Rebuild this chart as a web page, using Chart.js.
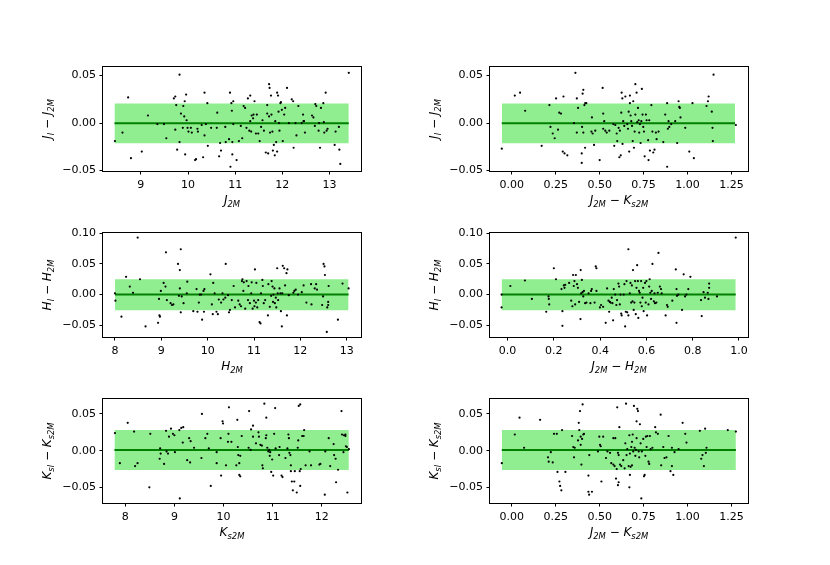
<!DOCTYPE html>
<html>
<head>
<meta charset="utf-8">
<script src="https://cdn.jsdelivr.net/npm/chart.js@4.4.1/dist/chart.umd.min.js"></script>
<style>
  body { margin: 0; background: #fff; width: 830px; height: 565px; position: relative; overflow: hidden; }
  canvas { position: absolute; }
</style>
</head>
<body>
<canvas id="p0"></canvas>
<canvas id="p1"></canvas>
<canvas id="p2"></canvas>
<canvas id="p3"></canvas>
<canvas id="p4"></canvas>
<canvas id="p5"></canvas>
<script>
// residual vs magnitude / colour, one [x, y] pair per star
const jMagPts = [[8.45,-0.019],[8.61,-0.010],[8.73,0.027],[8.79,-0.037],[9.02,-0.030],[9.15,0.008],[9.35,-0.001],[9.49,-0.001],[9.54,-0.016],[9.70,0.026],[9.73,0.028],[9.73,-0.007],[9.75,0.019],[9.77,-0.028],[9.82,0.051],[9.82,-0.020],[9.85,0.010],[9.89,-0.005],[9.90,0.018],[9.92,0.007],[9.93,0.023],[9.94,-0.033],[9.96,0.030],[9.97,0.003],[9.99,-0.005],[10.01,-0.009],[10.06,-0.005],[10.08,-0.010],[10.15,-0.039],[10.17,-0.038],[10.20,-0.006],[10.21,-0.009],[10.29,-0.002],[10.32,-0.036],[10.35,0.032],[10.35,-0.013],[10.38,-0.001],[10.41,0.021],[10.42,-0.024],[10.49,-0.005],[10.61,-0.005],[10.62,0.011],[10.66,-0.035],[10.68,-0.021],[10.70,-0.029],[10.79,-0.004],[10.80,-0.020],[10.87,-0.017],[10.89,0.032],[10.90,-0.046],[10.92,0.021],[10.93,0.013],[10.94,-0.020],[10.94,-0.033],[10.96,0.023],[10.96,-0.001],[11.03,-0.039],[11.08,-0.019],[11.12,-0.003],[11.15,-0.016],[11.18,0.018],[11.21,0.016],[11.24,-0.005],[11.27,0.026],[11.30,-0.008],[11.32,0.029],[11.32,0.002],[11.34,-0.009],[11.35,0.008],[11.38,0.005],[11.39,0.009],[11.41,0.023],[11.44,-0.011],[11.46,0.009],[11.49,-0.011],[11.52,-0.019],[11.55,-0.004],[11.58,0.003],[11.61,-0.008],[11.65,-0.031],[11.68,0.010],[11.68,0.019],[11.70,-0.032],[11.72,0.041],[11.72,0.007],[11.73,0.037],[11.74,-0.010],[11.76,0.029],[11.77,0.009],[11.79,-0.009],[11.80,-0.029],[11.82,-0.023],[11.84,-0.034],[11.85,0.002],[11.87,-0.020],[11.89,0.032],[11.89,-0.030],[11.91,0.029],[11.92,0.012],[11.93,0.000],[11.94,-0.008],[11.96,0.021],[11.97,0.022],[11.99,0.014],[12.01,-0.019],[12.04,0.009],[12.06,0.016],[12.10,0.037],[12.14,0.000],[12.20,0.025],[12.23,0.023],[12.24,-0.026],[12.28,0.000],[12.30,-0.013],[12.34,0.018],[12.41,0.000],[12.44,0.009],[12.45,0.002],[12.46,0.002],[12.48,-0.010],[12.63,0.008],[12.66,0.006],[12.69,-0.003],[12.70,0.020],[12.72,0.018],[12.77,-0.008],[12.78,0.000],[12.80,-0.026],[12.82,0.016],[12.87,0.021],[12.88,0.001],[12.89,-0.010],[12.92,0.032],[12.94,-0.008],[12.96,-0.006],[13.11,-0.023],[13.13,-0.009],[13.20,-0.004],[13.21,-0.028],[13.23,-0.043],[13.41,0.053]];

const jColPts = [[-0.057,-0.027],[0.017,0.029],[0.047,0.032],[0.076,0.013],[0.17,-0.024],[0.214,0.019],[0.22,-0.004],[0.233,-0.011],[0.244,-0.016],[0.252,0.026],[0.263,-0.007],[0.27,0.011],[0.28,0.010],[0.29,-0.030],[0.294,0.028],[0.30,-0.032],[0.316,-0.034],[0.354,0.000],[0.362,0.053],[0.37,0.026],[0.37,-0.010],[0.377,0.016],[0.398,-0.042],[0.398,-0.032],[0.40,-0.004],[0.403,0.031],[0.407,0.035],[0.407,-0.010],[0.413,0.019],[0.417,-0.026],[0.418,0.021],[0.424,0.021],[0.453,-0.009],[0.456,0.006],[0.46,-0.011],[0.468,-0.023],[0.475,-0.008],[0.50,-0.039],[0.517,0.037],[0.52,0.010],[0.52,-0.006],[0.526,0.002],[0.532,-0.008],[0.54,-0.010],[0.555,-0.008],[0.578,-0.001],[0.583,-0.024],[0.589,-0.002],[0.597,-0.011],[0.60,-0.019],[0.608,-0.005],[0.612,-0.036],[0.615,-0.008],[0.62,-0.034],[0.623,0.011],[0.625,0.032],[0.629,0.026],[0.63,-0.022],[0.634,0.002],[0.64,-0.003],[0.646,0.028],[0.657,-0.001],[0.661,-0.006],[0.665,0.012],[0.668,-0.030],[0.672,0.029],[0.672,0.021],[0.676,0.008],[0.68,0.002],[0.684,-0.003],[0.688,-0.019],[0.691,0.023],[0.695,-0.026],[0.699,-0.009],[0.703,0.041],[0.703,0.009],[0.71,0.032],[0.714,0.001],[0.718,0.016],[0.722,0.003],[0.725,-0.010],[0.729,-0.001],[0.733,-0.021],[0.737,0.002],[0.74,0.036],[0.744,0.009],[0.748,-0.004],[0.752,-0.009],[0.756,-0.035],[0.763,0.009],[0.767,0.003],[0.776,-0.018],[0.778,-0.039],[0.782,0.003],[0.786,-0.029],[0.794,0.019],[0.80,-0.009],[0.805,-0.031],[0.812,-0.028],[0.82,-0.010],[0.824,-0.017],[0.835,-0.009],[0.862,-0.020],[0.873,0.009],[0.884,0.021],[0.884,-0.046],[0.888,-0.006],[0.892,0.002],[0.896,-0.004],[0.907,-0.001],[0.93,0.002],[0.941,-0.021],[0.949,0.023],[0.953,0.017],[0.956,0.016],[0.96,0.006],[0.987,-0.005],[1.01,-0.030],[1.028,0.021],[1.036,-0.037],[1.108,0.018],[1.116,0.023],[1.12,0.028],[1.138,0.012],[1.142,-0.005],[1.144,-0.019],[1.148,0.051],[1.275,-0.002]];

const hMagPts = [[8.0,0.002],[8.01,-0.010],[8.14,-0.036],[8.24,0.029],[8.32,0.013],[8.39,0.003],[8.49,0.093],[8.54,0.025],[8.66,-0.052],[8.93,-0.046],[8.95,-0.007],[8.96,-0.034],[8.97,-0.036],[8.99,0.006],[9.05,0.019],[9.09,0.013],[9.10,0.069],[9.12,-0.009],[9.20,-0.014],[9.23,-0.017],[9.26,-0.016],[9.36,0.050],[9.38,-0.002],[9.40,0.010],[9.40,0.040],[9.42,0.074],[9.42,-0.029],[9.44,-0.003],[9.48,-0.014],[9.55,0.002],[9.56,0.021],[9.69,-0.027],[9.76,0.009],[9.78,-0.028],[9.81,-0.013],[9.83,0.000],[9.86,0.000],[9.88,-0.041],[9.91,0.006],[9.92,-0.028],[9.93,0.009],[10.06,0.033],[10.09,-0.016],[10.11,-0.032],[10.12,0.019],[10.15,0.002],[10.19,-0.028],[10.22,-0.032],[10.24,-0.008],[10.29,-0.013],[10.32,0.002],[10.34,-0.008],[10.38,-0.005],[10.39,0.050],[10.44,-0.001],[10.46,-0.029],[10.48,-0.025],[10.52,-0.009],[10.56,0.014],[10.59,-0.021],[10.66,-0.010],[10.69,-0.016],[10.72,-0.019],[10.74,0.022],[10.75,0.025],[10.77,0.006],[10.78,0.020],[10.81,-0.023],[10.84,0.022],[10.87,-0.009],[10.88,0.014],[10.91,-0.014],[10.94,0.002],[10.95,0.020],[10.97,-0.023],[11.00,-0.010],[11.01,-0.019],[11.02,0.041],[11.04,-0.013],[11.05,0.019],[11.07,-0.021],[11.09,-0.009],[11.12,-0.045],[11.14,-0.047],[11.15,0.002],[11.18,0.024],[11.19,0.014],[11.21,-0.014],[11.24,-0.009],[11.30,-0.034],[11.31,0.017],[11.34,-0.020],[11.37,-0.002],[11.38,0.022],[11.40,0.013],[11.41,-0.012],[11.42,0.000],[11.44,0.010],[11.45,-0.014],[11.47,-0.005],[11.48,-0.021],[11.50,0.043],[11.51,0.002],[11.52,-0.009],[11.55,0.010],[11.57,0.002],[11.58,-0.027],[11.60,-0.052],[11.61,0.002],[11.62,0.047],[11.65,0.043],[11.67,0.015],[11.70,0.035],[11.71,-0.034],[11.72,0.041],[11.75,-0.001],[11.85,0.003],[11.87,0.006],[11.90,0.008],[11.95,0.000],[12.03,0.004],[12.07,0.015],[12.13,-0.013],[12.23,0.017],[12.24,-0.016],[12.31,0.010],[12.34,0.017],[12.36,0.008],[12.47,-0.017],[12.49,-0.003],[12.50,0.050],[12.52,0.046],[12.53,0.032],[12.57,-0.061],[12.58,-0.021],[12.60,-0.012],[12.60,-0.017],[12.61,0.014],[12.81,-0.041],[12.91,0.018],[13.04,0.010]];

const hColPts = [[-0.026,0.000],[-0.026,-0.021],[0.012,0.014],[0.075,0.023],[0.105,-0.007],[0.167,-0.028],[0.177,-0.003],[0.178,-0.007],[0.18,-0.016],[0.20,0.043],[0.209,0.025],[0.233,0.009],[0.237,-0.027],[0.237,-0.051],[0.243,0.015],[0.246,0.011],[0.249,0.016],[0.266,0.019],[0.275,-0.010],[0.28,-0.019],[0.283,0.032],[0.286,0.014],[0.289,0.022],[0.292,-0.016],[0.295,0.032],[0.30,0.017],[0.304,0.011],[0.309,-0.012],[0.315,-0.040],[0.316,0.040],[0.318,0.002],[0.321,0.024],[0.324,0.004],[0.327,-0.003],[0.33,0.006],[0.335,-0.014],[0.341,-0.013],[0.35,0.002],[0.358,-0.014],[0.361,0.006],[0.364,0.009],[0.376,-0.013],[0.381,0.046],[0.384,0.043],[0.384,0.006],[0.399,-0.021],[0.404,-0.017],[0.413,-0.020],[0.424,-0.046],[0.43,0.010],[0.436,-0.010],[0.439,-0.028],[0.442,-0.012],[0.445,-0.013],[0.45,-0.005],[0.453,-0.014],[0.456,-0.042],[0.459,0.009],[0.465,0.000],[0.47,-0.017],[0.473,-0.009],[0.479,0.018],[0.482,0.013],[0.485,-0.016],[0.488,0.000],[0.491,-0.031],[0.493,-0.034],[0.502,0.000],[0.505,0.017],[0.508,-0.052],[0.511,-0.028],[0.514,0.022],[0.517,-0.029],[0.522,0.074],[0.522,-0.034],[0.528,0.002],[0.531,0.019],[0.534,-0.013],[0.537,0.015],[0.54,-0.011],[0.542,0.040],[0.545,-0.025],[0.548,-0.013],[0.551,0.022],[0.554,-0.032],[0.557,0.011],[0.56,0.048],[0.563,0.022],[0.565,-0.038],[0.568,0.006],[0.571,0.003],[0.574,-0.013],[0.577,0.022],[0.58,-0.019],[0.583,-0.005],[0.586,0.011],[0.588,-0.027],[0.594,0.019],[0.597,-0.013],[0.60,0.022],[0.603,-0.034],[0.609,-0.016],[0.612,0.013],[0.614,0.025],[0.617,0.003],[0.62,-0.007],[0.623,0.006],[0.626,0.050],[0.632,-0.011],[0.635,0.002],[0.637,-0.014],[0.643,-0.013],[0.649,0.003],[0.652,0.068],[0.658,0.013],[0.663,0.009],[0.666,0.002],[0.683,-0.034],[0.689,-0.017],[0.692,-0.020],[0.712,-0.010],[0.727,0.041],[0.73,0.009],[0.73,-0.046],[0.732,-0.002],[0.738,0.000],[0.754,-0.025],[0.761,0.033],[0.767,-0.003],[0.773,0.000],[0.781,0.009],[0.79,0.029],[0.836,-0.009],[0.839,-0.035],[0.847,0.004],[0.853,-0.005],[0.865,0.003],[0.868,-0.007],[0.871,0.018],[0.871,0.011],[0.905,-0.003],[0.986,0.093]];

const kMagPts = [[7.79,0.024],[7.89,-0.017],[8.05,0.038],[8.18,0.026],[8.20,-0.021],[8.25,-0.017],[8.49,-0.050],[8.51,0.023],[8.70,-0.011],[8.71,0.003],[8.72,-0.004],[8.79,-0.018],[8.83,0.027],[8.84,-0.001],[8.87,-0.004],[8.89,0.019],[8.93,0.030],[8.97,0.023],[9.00,0.021],[9.01,-0.002],[9.10,0.028],[9.11,-0.065],[9.14,0.031],[9.18,0.032],[9.17,0.011],[9.26,-0.013],[9.30,0.017],[9.32,-0.016],[9.33,0.013],[9.40,0.004],[9.55,-0.010],[9.56,0.050],[9.63,0.017],[9.67,0.023],[9.70,0.003],[9.74,-0.048],[9.86,-0.002],[9.86,-0.017],[9.94,0.017],[9.95,-0.034],[9.98,0.040],[9.99,0.037],[10.05,-0.020],[10.09,0.012],[10.10,0.023],[10.11,0.059],[10.16,0.012],[10.26,-0.020],[10.28,0.042],[10.29,0.005],[10.30,-0.006],[10.32,-0.017],[10.32,-0.033],[10.34,-0.007],[10.34,-0.035],[10.37,0.020],[10.51,0.004],[10.52,0.054],[10.55,0.001],[10.56,0.029],[10.60,0.034],[10.60,0.019],[10.66,0.010],[10.71,0.025],[10.72,0.019],[10.75,0.008],[10.78,0.007],[10.79,-0.020],[10.80,-0.024],[10.83,0.064],[10.86,0.017],[10.87,0.045],[10.87,0.021],[10.89,0.004],[10.91,-0.001],[10.93,0.001],[10.94,-0.007],[10.95,-0.002],[10.97,-0.029],[10.99,-0.012],[11.01,-0.034],[11.03,0.023],[11.05,0.058],[11.06,0.003],[11.13,-0.006],[11.14,0.005],[11.18,-0.034],[11.20,-0.036],[11.26,-0.010],[11.30,0.003],[11.32,0.022],[11.33,0.017],[11.34,-0.003],[11.36,-0.006],[11.37,-0.020],[11.37,-0.028],[11.39,-0.042],[11.41,-0.054],[11.44,-0.042],[11.45,-0.028],[11.49,-0.057],[11.51,0.004],[11.52,0.014],[11.53,0.061],[11.55,-0.028],[11.56,0.063],[11.56,-0.048],[11.57,-0.025],[11.60,0.020],[11.63,0.020],[11.64,0.028],[11.67,-0.020],[11.75,-0.001],[11.78,-0.020],[11.95,-0.019],[11.97,-0.018],[12.06,-0.060],[12.07,-0.001],[12.14,0.017],[12.17,-0.021],[12.24,0.009],[12.25,-0.006],[12.28,-0.011],[12.29,-0.043],[12.33,-0.026],[12.40,0.054],[12.41,0.022],[12.44,-0.002],[12.45,0.021],[12.48,0.022],[12.48,0.020],[12.49,0.006],[12.51,0.005],[12.52,-0.057],[12.55,0.002]];

const kColPts = [[-0.057,-0.017],[0.017,0.022],[0.044,0.045],[0.07,0.004],[0.161,0.042],[0.206,-0.009],[0.21,-0.015],[0.222,-0.002],[0.233,-0.016],[0.24,0.023],[0.256,0.023],[0.26,-0.029],[0.271,-0.042],[0.275,-0.048],[0.282,-0.054],[0.286,0.028],[0.305,-0.029],[0.343,0.020],[0.35,0.005],[0.354,-0.009],[0.358,0.004],[0.377,0.014],[0.381,0.038],[0.384,0.028],[0.388,0.054],[0.392,0.019],[0.392,0.008],[0.396,-0.019],[0.40,0.016],[0.403,0.063],[0.407,0.022],[0.411,0.023],[0.436,-0.034],[0.436,-0.056],[0.44,-0.060],[0.441,-0.006],[0.456,-0.056],[0.49,-0.001],[0.498,0.019],[0.502,0.008],[0.506,0.006],[0.51,-0.042],[0.52,0.019],[0.536,-0.010],[0.544,-0.001],[0.559,-0.003],[0.566,-0.017],[0.578,0.017],[0.578,-0.019],[0.585,-0.021],[0.589,0.017],[0.593,-0.038],[0.597,-0.025],[0.60,0.059],[0.604,-0.003],[0.604,-0.047],[0.608,-0.043],[0.608,-0.006],[0.612,0.032],[0.616,-0.019],[0.623,-0.021],[0.634,-0.013],[0.642,-0.024],[0.646,0.010],[0.65,0.064],[0.653,-0.006],[0.657,0.002],[0.665,-0.021],[0.669,-0.050],[0.669,0.021],[0.672,-0.004],[0.672,-0.033],[0.676,-0.022],[0.68,0.005],[0.684,0.012],[0.684,-0.020],[0.688,0.022],[0.691,-0.001],[0.695,0.061],[0.699,0.004],[0.703,-0.007],[0.706,0.001],[0.71,0.040],[0.71,0.017],[0.714,0.057],[0.718,0.054],[0.722,-0.001],[0.725,-0.009],[0.729,0.036],[0.733,0.010],[0.737,-0.065],[0.74,-0.001],[0.748,0.016],[0.752,-0.035],[0.756,-0.033],[0.76,-0.007],[0.763,0.019],[0.767,0.005],[0.771,0.020],[0.778,-0.015],[0.782,-0.018],[0.786,0.020],[0.79,0.002],[0.80,0.004],[0.816,0.032],[0.82,0.025],[0.831,0.023],[0.847,0.049],[0.85,-0.020],[0.862,0.005],[0.869,-0.010],[0.88,-0.009],[0.892,0.020],[0.903,-0.028],[0.911,-0.021],[0.911,0.004],[0.919,-0.033],[0.926,-0.002],[0.949,0.002],[0.972,0.038],[0.987,0.023],[0.994,0.011],[1.07,0.027],[1.078,-0.011],[1.085,-0.006],[1.093,-0.021],[1.10,0.030],[1.104,-0.003],[1.108,0.004],[1.229,0.028],[1.275,0.026]];

// mean line and +-1 sigma band for each band, with the x span it covers
const jMid = -0.0003, hMid = 0.0, kMid = 0.0009;
const jBand = [-0.0213, 0.0206];
const hBand = [-0.0256, 0.0252];
const kBand = [-0.0265, 0.0283];
const jMagSpan = [8.44, 13.41];
const jColSpan = [-0.057, 1.27];
const hMagSpan = [8.0, 13.04];
const hColSpan = [-0.026, 0.986];
const kMagSpan = [7.78, 12.55];
const kColSpan = [-0.057, 1.275];

// tick values
const magTicksJ = [9, 10, 11, 12, 13];
const magTicksH = [8, 9, 10, 11, 12, 13];
const magTicksK = [8, 9, 10, 11, 12];
const colTicksJK = [0, 0.25, 0.5, 0.75, 1.0, 1.25];
const colTicksJH = [0, 0.2, 0.4, 0.6, 0.8, 1.0];
const resTicksJ = [-0.05, 0, 0.05];
const resTicksH = [-0.05, 0, 0.05, 0.10];
const resTicksK = [-0.05, 0, 0.05];

// axis titles: [text, style] with i = italic, s = subscript, n = upright
const M = ' \u2212 ';
const labJ2M = [['J', 'i'], ['2M', 's']];
const labH2M = [['H', 'i'], ['2M', 's']];
const labK2M = [['K', 'i'], ['s2M', 's']];
const labJK = [['J', 'i'], ['2M', 's'], [M, 'n'], ['K', 'i'], ['s2M', 's']];
const labJH = [['J', 'i'], ['2M', 's'], [M, 'n'], ['H', 'i'], ['2M', 's']];
const labJres = [['J', 'i'], ['I', 's'], [M, 'n'], ['J', 'i'], ['2M', 's']];
const labHres = [['H', 'i'], ['I', 's'], [M, 'n'], ['H', 'i'], ['2M', 's']];
const labKres = [['K', 'i'], ['sI', 's'], [M, 'n'], ['K', 'i'], ['s2M', 's']];

const FONT = "'DejaVu Sans', sans-serif";
const PW = 258, PH = 104;

const panels = [
  { pts: jMagPts, span: jMagSpan, band: jBand, mid: jMid, xr: [8.197, 13.669], yr: [-0.0505, 0.0591], xt: magTicksJ, xd: 0, yt: resTicksJ, xl: labJ2M, yl: labJres, left: 103, top: 67 },
  { pts: jColPts, span: jColSpan, band: jBand, mid: jMid, xr: [-0.124, 1.344], yr: [-0.0505, 0.0591], xt: colTicksJK, xd: 2, yt: resTicksJ, xl: labJK, yl: labJres, left: 490, top: 67 },
  { pts: hMagPts, span: hMagSpan, band: hBand, mid: hMid, xr: [7.742, 13.308], yr: [-0.0692, 0.1005], xt: magTicksH, xd: 0, yt: resTicksH, xl: labH2M, yl: labHres, left: 103, top: 233 },
  { pts: hColPts, span: hColSpan, band: hBand, mid: hMid, xr: [-0.076, 1.039], yr: [-0.0692, 0.1005], xt: colTicksJH, xd: 1, yt: resTicksH, xl: labJH, yl: labHres, left: 490, top: 233 },
  { pts: kMagPts, span: kMagSpan, band: kBand, mid: kMid, xr: [7.547, 12.797], yr: [-0.0713, 0.0704], xt: magTicksK, xd: 0, yt: resTicksK, xl: labK2M, yl: labKres, left: 103, top: 399 },
  { pts: kColPts, span: kColSpan, band: kBand, mid: kMid, xr: [-0.124, 1.344], yr: [-0.0713, 0.0704], xt: colTicksJK, xd: 2, yt: resTicksK, xl: labJK, yl: labKres, left: 490, top: 399 },
];

function fmt(v, d) {
  const s = Math.abs(v).toFixed(d);
  return (v < -1e-9 ? '\u2212' : '') + s;
}

function drawMath(ctx, parts, px, py, rotated) {
  const fonts = { i: 'italic 12px ' + FONT, s: 'italic 8.4px ' + FONT, n: '12px ' + FONT };
  ctx.save();
  ctx.translate(px, py);
  if (rotated) ctx.rotate(-Math.PI / 2);
  let w = 0;
  const segs = parts.map(([t, k]) => {
    ctx.font = fonts[k];
    const m = ctx.measureText(t).width;
    w += m;
    return [t, k, m];
  });
  let x = -w / 2;
  ctx.fillStyle = '#000';
  ctx.textAlign = 'left';
  ctx.textBaseline = 'alphabetic';
  for (const [t, k, m] of segs) {
    ctx.font = fonts[k];
    ctx.fillText(t, x, k === 's' ? 2.8 : 0);
    x += m;
  }
  ctx.restore();
}

// frame round the axes + the math-style axis titles
const frameAndTitles = {
  id: 'frameAndTitles',
  afterDraw(chart, args, opts) {
    const { ctx, chartArea: a } = chart;
    ctx.save();
    ctx.strokeStyle = '#000';
    ctx.lineWidth = 1;
    ctx.strokeRect(a.left - 0.5, a.top - 0.5, a.right - a.left + 1, a.bottom - a.top + 1);
    ctx.restore();
    drawMath(ctx, opts.x, (a.left + a.right) / 2, a.bottom + 33, false);
    drawMath(ctx, opts.y, a.left - 52, (a.top + a.bottom) / 2, true);
  }
};

panels.forEach((p, i) => {
  const cv = document.getElementById('p' + i);
  cv.width = PW + 120;
  cv.height = PH + 62;
  cv.style.left = (p.left - 95) + 'px';
  cv.style.top = (p.top - 12) + 'px';

  const tickFont = { family: FONT, size: 11 };
  new Chart(cv, {
    type: 'scatter',
    data: {
      datasets: [
        { data: p.pts.map(([x, y]) => ({ x, y })), pointRadius: 1.1, pointBackgroundColor: '#000', pointBorderWidth: 0, order: 0 },
        { type: 'line', data: p.span.map(x => ({ x, y: p.mid })), borderColor: '#008000', borderWidth: 2, pointRadius: 0, order: 1 },
        { type: 'line', data: p.span.map(x => ({ x, y: p.band[1] })), borderColor: 'rgba(0,0,0,0)', borderWidth: 0, pointRadius: 0, backgroundColor: '#90ee90', fill: '+1', order: 2 },
        { type: 'line', data: p.span.map(x => ({ x, y: p.band[0] })), borderColor: 'rgba(0,0,0,0)', borderWidth: 0, pointRadius: 0, fill: false, order: 3 },
      ]
    },
    options: {
      responsive: false,
      animation: false,
      events: [],
      layout: { padding: { left: 0, top: 12, right: 25, bottom: 0 }, autoPadding: false },
      plugins: {
        legend: { display: false },
        tooltip: { enabled: false },
        frameAndTitles: { x: p.xl, y: p.yl },
      },
      scales: {
        x: {
          type: 'linear', min: p.xr[0], max: p.xr[1],
          afterBuildTicks: ax => { ax.ticks = p.xt.map(v => ({ value: v })); },
          afterFit: ax => { ax.height = 50; },
          grid: { drawOnChartArea: false, color: '#000', tickLength: 3.5, tickWidth: 1 },
          border: { display: false },
          ticks: { padding: 4, color: '#000', font: tickFont, maxRotation: 0, autoSkip: false, callback: v => fmt(v, p.xd) },
        },
        y: {
          type: 'linear', min: p.yr[0], max: p.yr[1],
          afterBuildTicks: ax => { ax.ticks = p.yt.map(v => ({ value: v })); },
          afterFit: ax => { ax.width = 95; },
          grid: { drawOnChartArea: false, color: '#000', tickLength: 3.5, tickWidth: 1 },
          border: { display: false },
          ticks: { padding: 3.5, color: '#000', font: tickFont, autoSkip: false, callback: v => fmt(v, 2) },
        },
      },
    },
    plugins: [frameAndTitles],
  });
});
</script>
</body>
</html>
